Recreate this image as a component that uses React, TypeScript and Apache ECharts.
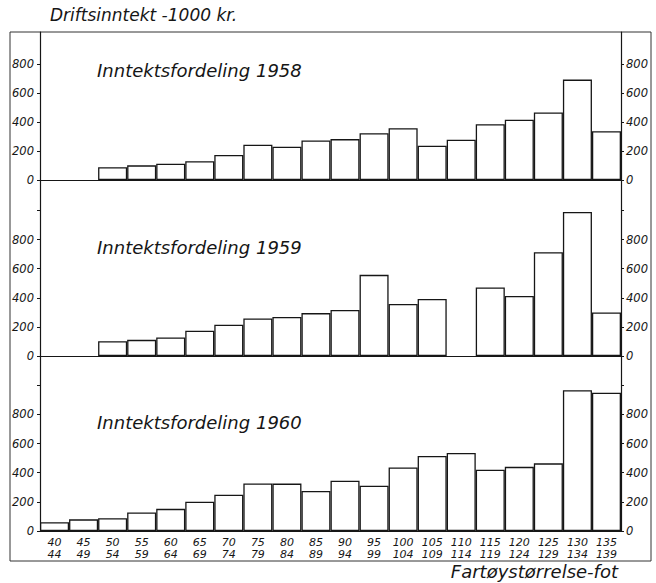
import React, { useEffect, useRef } from "react";
import * as echarts from "echarts";

// ---- data ----
const sizeClasses = [
  "40-44", "45-49", "50-54", "55-59", "60-64", "65-69", "70-74", "75-79", "80-84", "85-89",
  "90-94", "95-99", "100-104", "105-109", "110-114", "115-119", "120-124", "125-129", "130-134", "135-139",
];
const income1958 = [null, null, 88, 101, 112, 130, 172, 243, 229, 272, 282, 322, 357, 236, 277, 385, 416, 465, 692, 336];
const income1959 = [null, null, 102, 111, 128, 174, 215, 258, 268, 295, 317, 558, 357, 392, null, 471, 412, 714, 990, 299];
const income1960 = [60, 80, 88, 127, 152, 201, 249, 326, 325, 274, 345, 310, 436, 515, 535, 420, 440, 464, 965, 948];
const panelTitles = ["Inntektsfordeling 1958", "Inntektsfordeling 1959", "Inntektsfordeling 1960"];
const yLabelValues = [0, 200, 400, 600, 800];
const yTickValuesShort = [0, 200, 400, 600, 800];
const yTickValuesTall = [0, 200, 400, 600, 800, 1000];
const yAxisTitle = "Driftsinntekt -1000 kr.";
const xAxisTitle = "Fartøystørrelse-fot";

const INK = "#161616";
const FONT = "DejaVu Sans";

export default function App() {
  const ref = useRef<HTMLDivElement>(null);

  useEffect(() => {
    if (!ref.current) return;
    const chart = echarts.init(ref.current, undefined, { renderer: "svg" });

    const panels = [
      { data: income1958, top: 32, height: 148, max: 1020, ticks: yTickValuesShort, titleY: 70 },
      { data: income1959, top: 180, height: 176, max: 1210, ticks: yTickValuesTall, titleY: 247 },
      { data: income1960, top: 356, height: 175, max: 1200, ticks: yTickValuesTall, titleY: 422 },
    ];

    const grids = panels.map((p) => ({ left: 40, width: 581, top: p.top, height: p.height, containLabel: false }));

    const xAxes = panels.map((p, i) => ({
      type: "category",
      gridIndex: i,
      data: sizeClasses,
      boundaryGap: true,
      axisLine: { show: true, onZero: false, lineStyle: { color: INK, width: 1.2 } },
      axisTick: { show: false },
      splitLine: { show: false },
      axisLabel: {
        show: i === 2,
        interval: 0,
        margin: 5,
        fontSize: 11,
        lineHeight: 12,
        fontStyle: "italic",
        fontFamily: FONT,
        color: INK,
        formatter: (v: string) => v.replace("-", "\n"),
      },
    }));

    const yAxes: any[] = [];
    panels.forEach((p, i) => {
      (["left", "right"] as const).forEach((pos) => {
        yAxes.push({
          type: "value",
          gridIndex: i,
          position: pos,
          min: 0,
          max: p.max,
          interval: 200,
          axisLine: { show: true, lineStyle: { color: INK, width: 1.2 } },
          axisTick: { show: true, inside: false, length: 3, customValues: p.ticks, lineStyle: { color: INK, width: 1 } },
          axisLabel: {
            customValues: yLabelValues,
            margin: pos === "left" ? 6 : 5,
            fontSize: 11.5,
            fontStyle: "italic",
            fontFamily: FONT,
            color: INK,
          },
          splitLine: { show: false },
        });
      });
    });

    const series = panels.map((p, i) => ({
      type: "bar",
      xAxisIndex: i,
      yAxisIndex: i * 2,
      data: p.data,
      barCategoryGap: "0%",
      itemStyle: { color: "#ffffff", borderColor: INK, borderWidth: 1.3 },
      emphasis: { disabled: true },
    }));

    const graphic: any[] = [
      {
        type: "rect",
        silent: true,
        shape: { x: 10, y: 32, width: 641, height: 529 },
        style: { fill: "transparent", stroke: "#333", lineWidth: 1 },
      },
      {
        type: "text",
        x: 50,
        y: 15,
        style: { text: yAxisTitle, fontSize: 17, fontStyle: "italic", fontFamily: FONT, fill: INK, textVerticalAlign: "middle" },
      },
      {
        type: "text",
        x: 618,
        y: 571,
        style: { text: xAxisTitle, fontSize: 18, fontStyle: "italic", fontFamily: FONT, fill: INK, textAlign: "right", textVerticalAlign: "middle" },
      },
      ...panels.map((p, i) => ({
        type: "text",
        x: 97,
        y: p.titleY,
        style: { text: panelTitles[i], fontSize: 18, fontStyle: "italic", fontFamily: FONT, fill: INK, textVerticalAlign: "middle" },
      })),
    ];

    chart.setOption({
      animation: false,
      backgroundColor: "#ffffff",
      grid: grids,
      xAxis: xAxes,
      yAxis: yAxes,
      series,
      graphic,
    });

    return () => chart.dispose();
  }, []);

  return <div ref={ref} style={{ position: "absolute", left: 0, top: 0, width: 656, height: 583 }} />;
}
